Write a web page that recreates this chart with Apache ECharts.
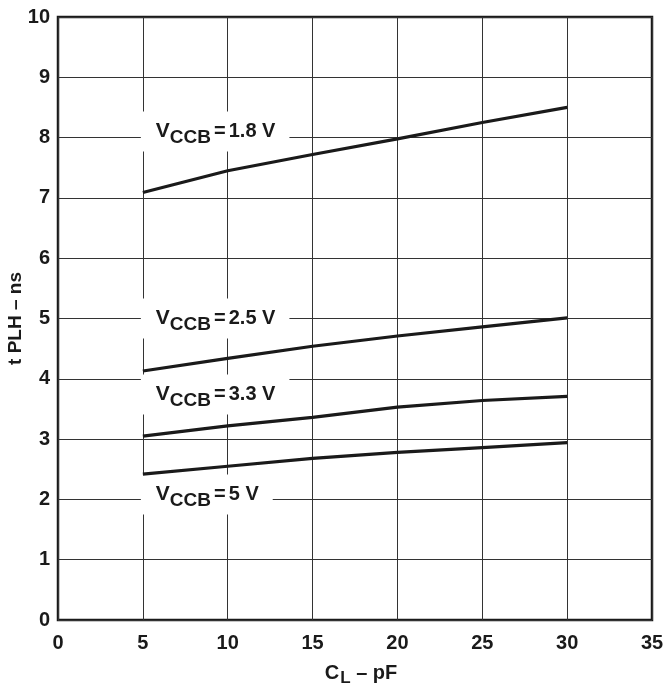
<!DOCTYPE html>
<html>
<head>
<meta charset="utf-8">
<script src="https://cdn.jsdelivr.net/npm/echarts@6/dist/echarts.min.js"></script>
<style>
html,body{margin:0;padding:0;background:#fff;}
#chart{width:667px;height:689px;}
</style>
</head>
<body>
<div id="chart"></div>
<script>
// Load capacitance C_L (pF)
const loadCap = [5, 10, 15, 20, 25, 30];
// Propagation delay tPLH (ns) per VCCB
const vccb18 = [7.09, 7.45, 7.72, 7.98, 8.25, 8.50];
const vccb25 = [4.13, 4.34, 4.54, 4.71, 4.86, 5.01];
const vccb33 = [3.05, 3.22, 3.36, 3.53, 3.64, 3.71];
const vccb50 = [2.42, 2.55, 2.68, 2.78, 2.86, 2.94];
const seriesNames = ['VCCB = 1.8 V', 'VCCB = 2.5 V', 'VCCB = 3.3 V', 'VCCB = 5 V'];
const labelTexts = ['1.8 V', '2.5 V', '3.3 V', '5 V'];
// label anchor in data coords: [x, y]
const labelAnchors = [[5, 8.1], [5, 5.0], [5, 3.74], [5, 2.08]];

const FONT = "'Liberation Sans', Arial, Helvetica, sans-serif";
const INK = '#1a1a1a';

const chart = echarts.init(document.getElementById('chart'));

function pairs(xs, ys) { return xs.map((x, i) => [x, ys[i]]); }
const allSeries = [vccb18, vccb25, vccb33, vccb50];

const option = {
  animation: false,
  backgroundColor: '#fff',
  grid: { left: 58, right: 15, top: 17, bottom: 69, show: true, borderColor: INK, borderWidth: 2.5,
          backgroundColor: 'transparent', outerBoundsMode: 'none', containLabel: false, z: 0 },
  xAxis: {
    type: 'value', min: 0, max: 35, interval: 5, z: 0,
    axisLine: { show: false },
    axisTick: { show: false },
    splitLine: { show: true, lineStyle: { color: '#333', width: 1 } },
    axisLabel: { color: INK, fontFamily: FONT, fontWeight: 'bold', fontSize: 20, margin: 13 },
    name: '{c|C}{l|L}{n| – pF}',
    nameLocation: 'middle',
    nameMoveOverlap: false,
    nameGap: 40,
    nameTextStyle: {
      fontFamily: FONT, color: INK, padding: [0, 0, 0, 12],
      rich: {
        c: { fontSize: 20, fontWeight: 'bold', fontFamily: FONT, color: INK },
        l: { fontSize: 17, fontWeight: 'bold', fontFamily: FONT, color: INK, padding: [10, 0, 0, 1] },
        n: { fontSize: 20, fontWeight: 'bold', fontFamily: FONT, color: INK }
      }
    }
  },
  yAxis: {
    type: 'value', min: 0, max: 10, interval: 1, z: 0,
    axisLine: { show: false },
    axisTick: { show: false },
    splitLine: { show: true, lineStyle: { color: '#333', width: 1 } },
    axisLabel: { color: INK, fontFamily: FONT, fontWeight: 'bold', fontSize: 20, margin: 8 },
    name: 't PLH – ns',
    nameLocation: 'middle',
    nameMoveOverlap: false,
    nameGap: 33,
    nameTextStyle: { fontFamily: FONT, color: INK, fontWeight: 'bold', fontSize: 19 }
  },
  series: allSeries.map((ys, i) => ({
    name: seriesNames[i],
    type: 'line',
    data: pairs(loadCap, ys),
    symbol: 'none',
    lineStyle: { color: INK, width: 3.2, cap: 'butt' },
    z: 5
  }))
};
chart.setOption(option);

// labels positioned through the chart's own scale
const graphics = labelAnchors.map((a, i) => {
  const p = chart.convertToPixel({ gridIndex: 0 }, a);
  return {
    type: 'text',
    x: p[0] - 2, y: p[1],
    z: 2,
    style: {
      text: '{v|V}{s|CCB}{e|=}{n|' + labelTexts[i] + '}',
      align: 'left', verticalAlign: 'middle',
      backgroundColor: '#fff',
      padding: [4, 14, 4, 15],
      rich: {
        v: { fontSize: 21, fontWeight: 'bold', fontFamily: FONT, fill: INK },
        s: { fontSize: 19, fontWeight: 'bold', fontFamily: FONT, fill: INK, padding: [13, 0, 0, 0] },
        e: { fontSize: 20, fontWeight: 'bold', fontFamily: FONT, fill: INK, padding: [0, 3, 0, 3] },
        n: { fontSize: 20, fontWeight: 'bold', fontFamily: FONT, fill: INK }
      }
    }
  };
});
chart.setOption({ graphic: graphics });
</script>
</body>
</html>
